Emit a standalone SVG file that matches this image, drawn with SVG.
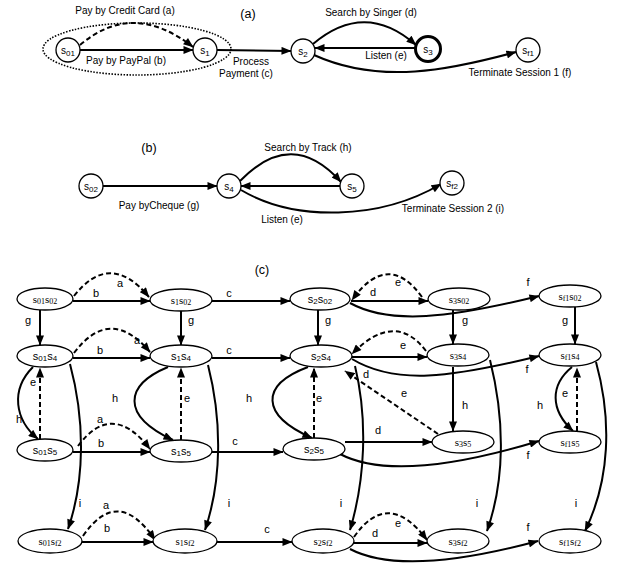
<svg xmlns="http://www.w3.org/2000/svg" width="618" height="563" viewBox="0 0 618 563">
<defs>
<marker id="ah" viewBox="0 0 10 8" refX="9.5" refY="4" markerWidth="11" markerHeight="8" markerUnits="userSpaceOnUse" orient="auto">
<path d="M0,0 L10,4 L0,8 Z" fill="#000"/>
</marker>
</defs>
<style>
text{font-family:"Liberation Sans",Arial,sans-serif;fill:#000}
.t{font-size:10px}
.h{font-size:12.5px}
.l{font-size:11px;text-anchor:middle}
.c{font-size:10px;text-anchor:middle}
.n{text-anchor:middle;font-size:11px}
.ns{font-family:"Liberation Serif","Times New Roman",serif}
.sub{font-size:8px}
circle{fill:#fff;stroke:#000;stroke-width:1.3}
ellipse{fill:#fff;stroke:#000;stroke-width:1.3}
.e{fill:none;stroke:#000;stroke-width:2;marker-end:url(#ah)}
.d{fill:none;stroke:#000;stroke-width:2;stroke-dasharray:5 3;marker-end:url(#ah)}
</style>
<rect width="618" height="563" fill="#fff"/>

<!-- ===== (a) ===== -->
<g id="part-a-labels">
<text class="t" x="125" y="14" text-anchor="middle">Pay by Credit Card (a)</text>
<text class="h" x="248" y="18" text-anchor="middle">(a)</text>
<text class="t" x="126" y="64" text-anchor="middle">Pay by PayPal (b)</text>
<text class="t" x="251" y="65" text-anchor="middle">Process</text>
<text class="t" x="246" y="77" text-anchor="middle">Payment (c)</text>
<text class="t" x="371" y="16" text-anchor="middle">Search by Singer (d)</text>
<text class="t" x="386" y="59" text-anchor="middle">Listen (e)</text>
<text class="t" x="520" y="76" text-anchor="middle">Terminate Session 1 (f)</text>
</g>
<ellipse id="group-a" cx="137" cy="49" rx="94" ry="26" style="fill:none;stroke-dasharray:1.5 1.5;stroke-width:1.6"/>
<g id="connectors-a">
<path class="d" d="M80,45 Q133,0 193,47"/>
<path class="e" d="M80,50 L193,50"/>
<path class="e" d="M217,50 L291,51"/>
<path class="e" d="M313,44 Q365,0 416,45"/>
<path class="e" d="M415,48 L315,48"/>
<path class="e" d="M314,55 C380,85 450,70 516,52"/>
</g>
<g id="a-s01"><circle cx="68" cy="50" r="12"/><text class="c" x="68" y="54">s<tspan class="sub" dy="2">01</tspan></text></g>
<g id="a-s1"><circle cx="205" cy="50" r="12"/><text class="c" x="205" y="54">s<tspan class="sub" dy="2">1</tspan></text></g>
<g id="a-s2"><circle cx="303" cy="51" r="12"/><text class="c" x="303" y="55">s<tspan class="sub" dy="2">2</tspan></text></g>
<g id="a-s3"><circle cx="428" cy="49" r="12.5" style="stroke-width:3"/><text class="c" x="428" y="53">s<tspan class="sub" dy="2">3</tspan></text></g>
<g id="a-sf1"><circle cx="528" cy="50" r="12"/><text class="c" x="528" y="54">s<tspan class="sub" dy="2">f1</tspan></text></g>

<!-- ===== (b) ===== -->
<g id="part-b-labels">
<text class="h" x="149" y="152" text-anchor="middle">(b)</text>
<text class="t" x="308" y="151" text-anchor="middle">Search by Track (h)</text>
<text class="t" x="159" y="209" text-anchor="middle">Pay byCheque (g)</text>
<text class="t" x="282" y="223" text-anchor="middle">Listen (e)</text>
<text class="t" x="453" y="212" text-anchor="middle">Terminate Session 2 (i)</text>
</g>
<g id="connectors-b">
<path class="e" d="M103,186 L217,186"/>
<path class="e" d="M240,181 Q292,127 341,182"/>
<path class="e" d="M340,186 L241,186"/>
<path class="e" d="M241,190 C295,222 380,220 441,184"/>
</g>
<g id="b-s02"><circle cx="91" cy="186" r="12"/><text class="c" x="91" y="190">s<tspan class="sub" dy="2">02</tspan></text></g>
<g id="b-s4"><circle cx="229" cy="186" r="12"/><text class="c" x="229" y="190">s<tspan class="sub" dy="2">4</tspan></text></g>
<g id="b-s5"><circle cx="352" cy="186" r="12"/><text class="c" x="352" y="190">s<tspan class="sub" dy="2">5</tspan></text></g>
<g id="b-sf2"><circle cx="452" cy="183" r="12"/><text class="c" x="452" y="187">s<tspan class="sub" dy="2">f2</tspan></text></g>

<!-- ===== (c) ===== -->
<text class="h" x="262" y="274" text-anchor="middle">(c)</text>
<g id="connectors-c">
<!-- row 1 -->
<path class="e" d="M73,301 L150,301"/>
<path class="d" d="M74,296 Q110,250 149,297"/>
<path class="e" d="M212,301 L290,301"/>
<path class="e" d="M40,310 L40,345"/>
<path class="e" d="M181,311 L181,345"/>
<path class="e" d="M318,310 L318,345"/>
<path class="e" d="M453,310 L453,344"/>
<path class="e" d="M575,307 L575,344"/>
<path class="e" d="M351,301 L428,301"/>
<path class="d" d="M422,297 Q388,250 352,300"/>
<path class="e" d="M350,303 C390,325 450,318 539,296"/>
<!-- row 2 -->
<path class="e" d="M73,358 L150,358"/>
<path class="d" d="M74,353 Q110,305 150,352"/>
<path class="e" d="M212,358 L290,358"/>
<path class="e" d="M352,357 L427,357"/>
<path class="d" d="M426,351 Q395,310 352,354"/>
<path class="e" d="M352,359 C395,385 450,378 539,356"/>
<path class="e" d="M33,367 C10,390 15,420 38,439"/>
<path class="d" d="M40,439 L40,368"/>
<path class="e" d="M168,367 C125,385 120,415 173,440"/>
<path class="d" d="M181,440 L181,368"/>
<path class="e" d="M308,367 C260,385 260,415 312,438"/>
<path class="d" d="M314,438 L314,368"/>
<path class="e" d="M453,367 L453,431"/>
<path class="e" d="M572,367 C550,385 550,410 573,431"/>
<path class="d" d="M577,431 L577,368"/>
<path class="d" d="M438,434 L345,371"/>
<path class="e" d="M70,364 C85,420 85,480 68,529"/>
<path class="e" d="M208,365 C222,420 222,480 205,530"/>
<path class="e" d="M355,366 C368,420 365,480 350,530"/>
<path class="e" d="M490,360 C505,420 505,480 487,531"/>
<path class="e" d="M596,362 C612,420 610,480 585,531"/>
<!-- row 3 -->
<path class="e" d="M73,452 L150,452"/>
<path class="d" d="M78,446 Q112,400 150,449"/>
<path class="e" d="M212,452 L283,452"/>
<path class="e" d="M345,442 L432,442"/>
<path class="e" d="M340,454 C380,475 450,468 539,441"/>
<!-- row 4 -->
<path class="e" d="M82,542 L153,542"/>
<path class="d" d="M83,536 Q118,485 155,540"/>
<path class="e" d="M217,542 L292,542"/>
<path class="e" d="M354,543 L427,543"/>
<path class="d" d="M354,537 Q388,488 427,540"/>
<path class="e" d="M350,549 C390,570 460,562 538,541"/>
</g>
<g id="labels-c">
<text class="l" x="96" y="297">b</text>
<text class="l" x="120" y="287">a</text>
<text class="l" x="229" y="297">c</text>
<text class="l" x="28" y="324">g</text>
<text class="l" x="191" y="324">g</text>
<text class="l" x="328" y="324">g</text>
<text class="l" x="373" y="296">d</text>
<text class="l" x="398" y="286">e</text>
<text class="l" x="528" y="286">f</text>
<text class="l" x="465" y="324">g</text>
<text class="l" x="565" y="324">g</text>
<text class="l" x="100" y="354">b</text>
<text class="l" x="137" y="344">a</text>
<text class="l" x="229" y="354">c</text>
<text class="l" x="403" y="349">e</text>
<text class="l" x="366" y="378">d</text>
<text class="l" x="527" y="373">f</text>
<text class="l" x="19" y="423">h</text>
<text class="l" x="33" y="386">e</text>
<text class="l" x="115" y="402">h</text>
<text class="l" x="187" y="402">e</text>
<text class="l" x="249" y="402">h</text>
<text class="l" x="319" y="402">e</text>
<text class="l" x="404" y="397">e</text>
<text class="l" x="465" y="409">h</text>
<text class="l" x="540" y="409">h</text>
<text class="l" x="565" y="397">e</text>
<text class="l" x="378" y="434">d</text>
<text class="l" x="100" y="423">a</text>
<text class="l" x="101" y="447">b</text>
<text class="l" x="235" y="445">c</text>
<text class="l" x="528" y="459">f</text>
<text class="l" x="80" y="507">i</text>
<text class="l" x="229" y="507">i</text>
<text class="l" x="341" y="507">i</text>
<text class="l" x="477" y="507">i</text>
<text class="l" x="576" y="507">i</text>
<text class="l" x="106" y="509">a</text>
<text class="l" x="107" y="532">b</text>
<text class="l" x="267" y="533">c</text>
<text class="l" x="375" y="537">d</text>
<text class="l" x="398" y="527">e</text>
<text class="l" x="528" y="531">f</text>
</g>

<!-- nodes row 1 -->
<g id="s01s02"><ellipse cx="45" cy="299" rx="28" ry="11"/><text class="n ns" x="45" y="303">s<tspan class="sub" dy="1">01</tspan><tspan dy="-1">s</tspan><tspan class="sub" dy="1">02</tspan></text></g>
<g id="s1s02"><ellipse cx="181" cy="300" rx="31" ry="11"/><text class="n ns" x="181" y="304">s<tspan class="sub" dy="1">1</tspan><tspan dy="-1">s</tspan><tspan class="sub" dy="1">02</tspan></text></g>
<g id="s2s02"><ellipse cx="320" cy="299" rx="30" ry="11"/><text class="n" x="320" y="303">s<tspan class="sub" dy="1">2</tspan><tspan dy="-1">s</tspan><tspan class="sub" dy="1">02</tspan></text></g>
<g id="s3s02"><ellipse cx="459" cy="299" rx="31" ry="11"/><text class="n ns" x="459" y="303">s<tspan class="sub" dy="1">3</tspan><tspan dy="-1">s</tspan><tspan class="sub" dy="1">02</tspan></text></g>
<g id="sf1s02"><ellipse cx="570" cy="296" rx="31" ry="11"/><text class="n ns" x="570" y="300">s<tspan class="sub" dy="1">f1</tspan><tspan dy="-1">s</tspan><tspan class="sub" dy="1">02</tspan></text></g>
<!-- row 2 -->
<g id="s01s4"><ellipse cx="45" cy="356" rx="28" ry="11"/><text class="n" x="45" y="360">s<tspan class="sub" dy="1">01</tspan><tspan dy="-1">s</tspan><tspan class="sub" dy="1">4</tspan></text></g>
<g id="s1s4"><ellipse cx="181" cy="356" rx="31" ry="11"/><text class="n" x="181" y="360">s<tspan class="sub" dy="1">1</tspan><tspan dy="-1">s</tspan><tspan class="sub" dy="1">4</tspan></text></g>
<g id="s2s4"><ellipse cx="321" cy="356" rx="31" ry="11"/><text class="n" x="321" y="360">s<tspan class="sub" dy="1">2</tspan><tspan dy="-1">s</tspan><tspan class="sub" dy="1">4</tspan></text></g>
<g id="s3s4"><ellipse cx="458" cy="355" rx="31" ry="11"/><text class="n ns" x="458" y="359">s<tspan class="sub" dy="1">3</tspan><tspan dy="-1">s</tspan><tspan class="sub" dy="1">4</tspan></text></g>
<g id="sf1s4"><ellipse cx="570" cy="355" rx="31" ry="11"/><text class="n ns" x="570" y="359">s<tspan class="sub" dy="1">f1</tspan><tspan dy="-1">s</tspan><tspan class="sub" dy="1">4</tspan></text></g>
<!-- row 3 -->
<g id="s01s5"><ellipse cx="45" cy="450" rx="28" ry="11"/><text class="n" x="45" y="454">s<tspan class="sub" dy="1">01</tspan><tspan dy="-1">s</tspan><tspan class="sub" dy="1">5</tspan></text></g>
<g id="s1s5"><ellipse cx="181" cy="451" rx="31" ry="11"/><text class="n" x="181" y="455">s<tspan class="sub" dy="1">1</tspan><tspan dy="-1">s</tspan><tspan class="sub" dy="1">5</tspan></text></g>
<g id="s2s5"><ellipse cx="314" cy="449" rx="31" ry="11"/><text class="n" x="314" y="453">s<tspan class="sub" dy="1">2</tspan><tspan dy="-1">s</tspan><tspan class="sub" dy="1">5</tspan></text></g>
<g id="s3s5"><ellipse cx="463" cy="442" rx="31" ry="11"/><text class="n ns" x="463" y="446">s<tspan class="sub" dy="1">3</tspan><tspan dy="-1">s</tspan><tspan class="sub" dy="1">5</tspan></text></g>
<g id="sf1s5"><ellipse cx="570" cy="442" rx="31" ry="11"/><text class="n ns" x="570" y="446">s<tspan class="sub" dy="1">f1</tspan><tspan dy="-1">s</tspan><tspan class="sub" dy="1">5</tspan></text></g>
<!-- row 4 -->
<g id="s01sf2"><ellipse cx="50" cy="541" rx="32" ry="12"/><text class="n ns" x="50" y="545">s<tspan class="sub" dy="1">01</tspan><tspan dy="-1">s</tspan><tspan class="sub" dy="1">f2</tspan></text></g>
<g id="s1sf2"><ellipse cx="185" cy="541" rx="32" ry="12"/><text class="n ns" x="185" y="545">s<tspan class="sub" dy="1">1</tspan><tspan dy="-1">s</tspan><tspan class="sub" dy="1">f2</tspan></text></g>
<g id="s2sf2"><ellipse cx="323" cy="541" rx="31" ry="12"/><text class="n ns" x="323" y="545">s<tspan class="sub" dy="1">2</tspan><tspan dy="-1">s</tspan><tspan class="sub" dy="1">f2</tspan></text></g>
<g id="s3sf2"><ellipse cx="458" cy="541" rx="31" ry="12"/><text class="n ns" x="458" y="545">s<tspan class="sub" dy="1">3</tspan><tspan dy="-1">s</tspan><tspan class="sub" dy="1">f2</tspan></text></g>
<g id="sf1sf2"><ellipse cx="570" cy="541" rx="31" ry="12"/><text class="n ns" x="570" y="545">s<tspan class="sub" dy="1">f1</tspan><tspan dy="-1">s</tspan><tspan class="sub" dy="1">f2</tspan></text></g>
</svg>
